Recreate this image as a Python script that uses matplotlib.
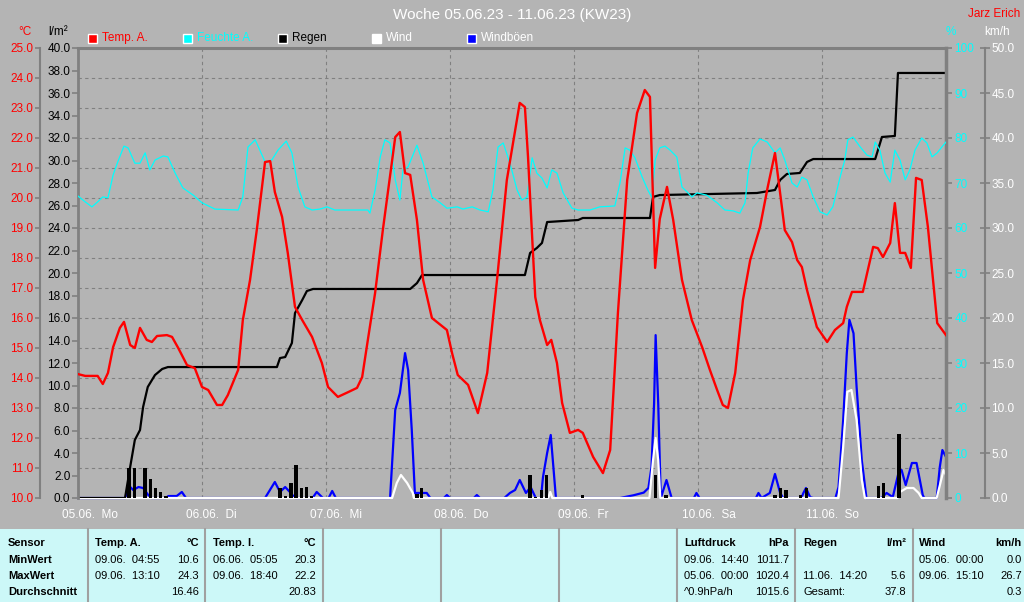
import matplotlib
matplotlib.use('Agg')
import matplotlib.pyplot as plt
from matplotlib.patches import Rectangle
from matplotlib.lines import Line2D
from matplotlib.transforms import ScaledTranslation

plt.rcParams['font.family'] = ['Liberation Sans', 'DejaVu Sans']

# ---- data (hours since 05.06. 00:00) ----
temp_h = [0, 1.4, 3.8, 4.8, 5.8, 6.8, 8.1, 8.9, 10.1, 11.0,
          12.0, 13.3, 14.3, 15.3, 17.2, 18.2, 19.4, 21.1, 22.6, 24.0,
          25.2, 26.9, 27.9, 29.0, 31.0, 31.9, 33.3, 34.6, 36.2, 37.2,
          38.1, 39.5, 40.6, 42.0, 43.4, 45.3, 47.2, 48.4, 50.3, 52.3,
          54.0, 55.0, 56.1, 57.5, 59.0, 61.4, 62.3, 63.3, 64.3, 65.6,
          66.8, 68.5, 71.4, 72.4, 73.5, 75.5, 77.4, 79.2, 81.1, 83.0,
          85.5, 86.5, 87.1, 88.5, 89.4, 90.8, 91.6, 92.7, 93.7, 95.2,
          96.8, 97.7, 99.7, 101.6, 103.0, 104.5, 106.3, 108.2, 109.7, 110.7,
          111.7, 112.6, 114.0, 115.2, 116.9, 118.8, 120.8, 122.3, 123.7, 124.8,
          125.8, 127.2, 128.7, 130.1, 132.0, 133.5, 134.9, 135.5, 136.8, 138.2,
          139.2, 140.1, 141.1, 143.0, 145.0, 146.5, 148.1, 148.8, 149.8, 151.9,
          153.9, 154.8, 155.8, 157.2, 158.1, 159.1, 160.1, 161.2, 162.2, 163.3,
          164.5, 166.3, 168]
temp_v = [14.13, 14.07, 14.07, 13.8, 14.17, 15.03, 15.67, 15.87, 15.1, 15.0,
          15.67, 15.27, 15.2, 15.4, 15.43, 15.37, 15.0, 14.43, 14.33, 13.7,
          13.6, 13.1, 13.1, 13.43, 14.27, 15.93, 17.27, 18.93, 21.2, 21.23,
          20.2, 19.37, 18.17, 16.37, 15.93, 15.37, 14.5, 13.7, 13.37, 13.53,
          13.67, 14.03, 15.27, 16.83, 18.93, 22.03, 22.2, 20.83, 20.77, 19.27,
          17.27, 16.0, 15.6, 14.83, 14.1, 13.77, 12.83, 14.17, 17.27, 20.6,
          23.17, 23.03, 21.37, 16.7, 15.93, 15.1, 15.27, 14.5, 13.17, 12.17,
          12.27, 12.17, 11.37, 10.83, 11.6, 16.17, 20.6, 22.83, 23.6, 23.37,
          17.67, 19.3, 20.37, 19.27, 17.27, 15.93, 15.03, 14.27, 13.6, 13.1,
          13.0, 14.17, 16.6, 17.93, 19.03, 20.37, 21.5, 20.7, 18.93, 18.53,
          17.93, 17.7, 16.93, 15.7, 15.2, 15.6, 15.83, 16.37, 16.87, 16.87,
          18.37, 18.33, 18.03, 18.5, 19.83, 18.17, 18.17, 17.67, 20.67, 20.6,
          19.03, 15.83, 15.43]

hum_h = [0, 1.4, 2.7, 3.8, 4.8, 5.8, 6.8, 7.7, 8.9, 9.7,
         11.0, 12.0, 13.0, 13.9, 14.9, 16.5, 17.4, 18.8, 20.3, 22.3,
         24.0, 26.5, 31.0, 31.9, 32.9, 34.3, 36.2, 37.5, 38.7, 40.3,
         41.4, 42.6, 43.9, 45.3, 46.8, 48.2, 49.7, 56.1, 56.5, 57.5,
         58.5, 59.4, 60.4, 61.4, 62.3, 62.9, 63.9, 65.6, 66.8, 68.5,
         70.1, 71.4, 73.4, 74.5, 76.3, 77.8, 79.4, 80.3, 81.3, 82.3,
         83.6, 85.0, 85.9, 86.9, 87.9, 88.8, 89.8, 90.8, 91.7, 92.7,
         93.9, 95.6, 96.8, 99.1, 101.0, 103.9, 104.9, 105.9, 106.8, 107.8,
         109.2, 110.3, 111.1, 111.7, 112.6, 113.6, 114.6, 115.9, 116.9, 117.9,
         118.8, 119.8, 121.7, 123.7, 125.2, 126.8, 128.1, 129.1, 129.7, 130.6,
         132.0, 133.4, 134.9, 135.9, 136.8, 138.2, 139.2, 140.1, 141.1, 142.3,
         143.6, 145.0, 146.1, 147.5, 148.4, 149.0, 150.0, 151.4, 152.7, 153.7,
         154.3, 155.2, 156.2, 157.2, 158.1, 159.1, 160.1, 161.0, 162.0, 163.3,
         164.3, 165.3, 166.3, 167.2, 168]
hum_v = [67.1, 65.8, 64.7, 65.8, 66.9, 66.7, 71.8, 74.7, 78.2, 77.8,
         74.4, 74.4, 76.7, 72.9, 75.1, 76.0, 75.8, 72.2, 68.9, 67.3,
         65.6, 64.2, 64.0, 66.9, 78.0, 79.6, 74.7, 75.1, 77.3, 79.3,
         76.7, 69.1, 64.7, 64.0, 64.2, 64.7, 64.0, 64.0, 63.3, 68.4,
         75.8, 79.6, 78.9, 70.7, 66.2, 72.9, 73.6, 78.4, 74.4, 66.9,
         65.6, 64.4, 64.7, 64.2, 64.7, 64.0, 63.6, 68.4, 78.0, 78.9,
         74.4, 68.4, 66.2, 66.9, 75.6, 72.2, 71.1, 68.9, 72.9, 72.2,
         67.8, 64.4, 64.0, 64.0, 64.7, 64.9, 70.0, 77.8, 77.3, 75.6,
         71.3, 68.4, 66.7, 75.1, 77.8, 78.2, 77.3, 75.8, 69.1, 68.0,
         66.9, 67.8, 67.3, 65.6, 64.0, 63.8, 63.3, 65.6, 72.2, 77.8,
         79.8, 79.1, 76.7, 77.8, 75.1, 70.0, 69.1, 71.3, 70.7, 66.9,
         63.6, 62.9, 64.7, 71.3, 75.1, 79.6, 80.2, 78.0, 76.2, 75.8,
         79.1, 77.3, 72.2, 70.2, 77.3, 75.1, 70.7, 72.9, 77.3, 80.0,
         78.9, 75.8, 76.7, 78.0, 79.1]

rain_cum_h = [0, 9.1, 10.1, 11.0, 12.0, 12.6, 13.5, 14.9, 16.3, 17.4,
              38.5, 39.1, 40.1, 41.4, 42.0, 43.4, 44.3, 45.5,
              64.3, 65.6, 66.6, 86.5, 87.5, 88.8, 89.8, 90.8, 96.8, 97.7,
              110.7, 111.3, 112.6, 131.4, 132.6, 134.9, 135.9, 137.2, 139.7, 141.1, 142.3,
              154.3, 155.6, 158.1, 158.7, 168]
rain_cum_v = [0, 0, 2.76, 5.16, 6.04, 8.09, 9.87, 10.93, 11.47, 11.64,
              11.64, 12.44, 12.53, 13.78, 16.44, 17.6, 18.4, 18.58,
              18.58, 19.1, 19.82, 19.82, 21.78, 22.22, 22.67, 24.53, 24.71, 24.89,
              24.89, 26.76, 26.93, 27.11, 27.2, 27.38, 28.27, 28.8, 28.89, 29.87, 30.13,
              30.13, 32.09, 32.18, 37.78, 37.78]

rain_h = [9.9, 10.9, 13.0, 14.0, 15.0, 16.0, 17.0,
          39.1, 40.2, 41.2, 42.2, 43.2, 44.2, 45.2,
          65.6, 66.5, 87.5, 88.6, 89.7, 90.7, 97.7,
          111.8, 113.8, 134.9, 136.0, 137.0, 139.9, 141.0,
          154.9, 155.9, 158.9]
rain_v = [2.67, 2.67, 2.67, 1.69, 0.89, 0.53, 0.18,
          0.89, 0.18, 1.33, 2.93, 0.89, 0.98, 0.18,
          0.4, 0.89, 2.04, 0.1, 0.71, 2.04, 0.27,
          2.04, 0.27, 0.27, 0.89, 0.71, 0.27, 0.89,
          1.07, 1.33, 5.69]

wind_h = [0, 60.8, 61.7, 62.5, 63.7, 64.8, 65.0, 91.0, 91.4, 91.8,
          110.6, 111.3, 111.8, 112.3, 112.7, 147.2, 148.1, 148.9, 149.7, 150.7,
          151.7, 152.3, 158.6, 159.1, 160.4, 161.7, 162.7, 163.3, 166.2, 167.2,
          167.5, 168]
wind_v = [0, 0, 1.67, 2.56, 1.67, 0.56, 0, 0, 0.67, 0,
          0, 4.2, 6.67, 4.2, 0, 0, 5.67, 11.8, 12.0, 8.67,
          2.0, 0, 0, 0.67, 1.11, 1.11, 0.56, 0, 0, 2.33,
          3.11, 2.56]

gust_h = [0, 9.2, 9.7, 10.7, 11.7, 12.6, 13.6, 14.2, 17.0, 17.5, 19.1, 20.1, 20.9,
          36.2, 38.1, 39.1, 40.1, 41.0, 42.0, 45.4, 46.2, 47.4, 48.5, 49.2, 49.9,
          60.4, 61.4, 62.3, 63.3, 63.9, 64.6, 65.2, 66.8, 67.5, 68.2, 70.8, 71.4, 72.0, 76.6, 77.2, 77.8,
          82.5, 83.6, 84.6, 85.5, 86.7, 87.6, 88.6, 89.6, 90.0, 90.8, 91.5, 92.5,
          104.9, 107.5, 109.5, 110.4, 111.0, 111.5, 111.8, 112.3, 112.8, 113.9, 114.9,
          119.2, 119.7, 120.3, 131.2, 131.7, 132.3, 133.9, 134.9, 135.9, 136.5, 140.0, 140.4, 140.9, 141.7, 142.3,
          146.6, 147.2, 148.1, 148.8, 149.3, 150.1, 150.7, 151.7, 152.6,
          155.5, 156.5, 157.7, 158.8, 159.4, 160.2, 161.4, 162.3, 163.5, 163.8, 166.2, 166.8, 167.3, 168]
gust_v = [0, 0, 1.44, 0.89, 1.22, 1.11, 0.33, 0, 0, 0.22, 0.22, 0.67, 0,
          0, 1.78, 0.67, 1.22, 0.67, 0, 0, 0.67, 0, 0, 0.78, 0,
          0, 9.78, 11.67, 16.1, 14.2, 7.56, 0.56, 0.56, 0.56, 0, 0, 0.33, 0, 0, 0.33, 0,
          0, 0.56, 0.89, 2.0, 0.56, 1.22, 0, 0, 2.33, 5.0, 7.0, 0,
          0, 0.3, 0.6, 1.11, 3.44, 10.5, 18.1, 10.5, 0, 2.0, 0,
          0, 0.56, 0, 0, 0.56, 0, 0.56, 2.67, 0.56, 0, 0, 0.56, 1.11, 0.1, 0,
          0, 1.22, 8.67, 16.1, 19.8, 18.3, 12.3, 4.2, 0,
          0, 0.56, 0.1, 2.78, 3.11, 1.44, 3.89, 3.89, 0.33, 0, 0, 3.44, 5.33, 4.56]

day_labels = ['05.06.  Mo', '06.06.  Di', '07.06.  Mi', '08.06.  Do',
              '09.06.  Fr', '10.06.  Sa', '11.06.  So']

# summary table: (left x, right x, rows)
table_cols = [
    (8, None, ['Sensor', 'MinWert', 'MaxWert', 'Durchschnitt']),
    (95, 199, [('Temp. A.', '°C'), ('09.06.  04:55', '10.6'), ('09.06.  13:10', '24.3'), ('', '16.46')]),
    (213, 316, [('Temp. I.', '°C'), ('06.06.  05:05', '20.3'), ('09.06.  18:40', '22.2'), ('', '20.83')]),
    (684, 789, [('Luftdruck', 'hPa'), ('09.06.  14:40', '1011.7'), ('05.06.  00:00', '1020.4'), ('^0.9hPa/h', '1015.6')]),
    (803, 906, [('Regen', 'l/m²'), ('', ''), ('11.06.  14:20', '5.6'), ('Gesamt:', '37.8')]),
    (919, 1022, [('Wind', 'km/h'), ('05.06.  00:00', '0.0'), ('09.06.  15:10', '26.7'), ('', '0.3')]),
]
col_lines = [88, 205, 323, 441, 559, 677, 795, 913]

BG = '#b4b4b4'
GRID = '#808080'
RED = '#ff0000'
CYAN = '#00ffff'
BLUE = '#0000ff'

W, H = 1024, 602
def fx(x):
    return x / W
def fy(y):
    return 1 - y / H

fig = plt.figure(figsize=(10.24, 6.02), dpi=100, facecolor=BG)
rect = [fx(78), fy(498), (946 - 78) / W, (498 - 48) / H]

ax_w = fig.add_axes(rect, zorder=1)
ax_r = fig.add_axes(rect, zorder=2)
ax_h = fig.add_axes(rect, zorder=3)
ax_t = fig.add_axes(rect, zorder=4)

ax_w.set_facecolor(BG)
for a in (ax_r, ax_h, ax_t):
    a.set_facecolor('none')
    a.tick_params(axis='x', bottom=False, labelbottom=False)
for a in (ax_w, ax_r, ax_h, ax_t):
    a.set_xlim(0, 168)
    for s in a.spines.values():
        s.set_visible(False)
        s.set_color(GRID)

# wind axis (km/h)
ax_w.set_ylim(0, 50)
ax_w.yaxis.tick_right()
ax_w.spines['right'].set_visible(True)
ax_w.spines['right'].set_position(('axes', 1 + 39 / 868))
ax_w.spines['right'].set_linewidth(1.5)
ax_w.set_yticks(range(0, 51, 5))
ax_w.set_yticklabels([f'{v:.1f}' for v in range(0, 51, 5)])
ax_w.tick_params(axis='y', colors=GRID, labelcolor='white', labelsize=8.5,
                 direction='inout', length=7, width=1.2, pad=1)
ax_w.set_xticks([24 * d for d in range(7)])
ax_w.set_xticklabels(day_labels)
ax_w.tick_params(axis='x', length=0, labelcolor='white', labelsize=8.5, pad=8)
for lab in ax_w.get_xticklabels():
    lab.set_horizontalalignment('left')
    lab.set_transform(lab.get_transform() + ScaledTranslation(-0.16, 0, fig.dpi_scale_trans))

# rain axis (l/m²)
ax_r.set_ylim(0, 40)
ax_r.set_yticks(range(0, 41, 2))
ax_r.set_yticklabels([f'{v:.1f}' for v in range(0, 41, 2)])
ax_r.tick_params(axis='y', colors=GRID, labelcolor='black', labelsize=8.5,
                 length=4.5, width=1.2, pad=1)
for side, lw in (('left', 2), ('top', 2.2), ('right', 2.5)):
    ax_r.spines[side].set_visible(True)
    ax_r.spines[side].set_linewidth(lw)

# humidity axis (%)
ax_h.set_ylim(0, 100)
ax_h.yaxis.tick_right()
ax_h.set_yticks(range(0, 101, 10))
ax_h.tick_params(axis='y', colors=GRID, labelcolor=CYAN, labelsize=8.5,
                 length=4.5, width=1.2, pad=1.5)

# temperature axis (°C)
ax_t.set_ylim(10, 25)
ax_t.spines['left'].set_visible(True)
ax_t.spines['left'].set_position(('axes', -38 / 868))
ax_t.spines['left'].set_linewidth(1.5)
ax_t.set_yticks(range(10, 26))
ax_t.set_yticklabels([f'{v:.1f}' for v in range(10, 26)])
ax_t.tick_params(axis='y', colors=GRID, labelcolor=RED, labelsize=8.5,
                 length=3.5, width=1.2, pad=1.5)

# grid on the bottom layer
for t in range(11, 25):
    ax_w.add_line(Line2D([0, 1], [t, t], transform=ax_t.get_yaxis_transform(),
                         color=GRID, lw=0.8, linestyle=(0, (3, 3)), zorder=0.5))
for d in range(1, 7):
    ax_w.axvline(24 * d, color=GRID, lw=0.8, linestyle=(0, (3, 3)), zorder=0.5)

# series
ax_w.plot(gust_h, gust_v, color=BLUE, lw=1.6, clip_on=False)
ax_w.plot(wind_h, wind_v, color='white', lw=1.6, clip_on=False)
ax_r.bar(rain_h, rain_v, width=0.65, color='black')
ax_r.plot(rain_cum_h, rain_cum_v, color='black', lw=1.6)
ax_h.plot(hum_h, hum_v, color=CYAN, lw=0.9)
ax_t.plot(temp_h, temp_v, color=RED, lw=1.7)

# titles and unit labels
fig.text(fx(512), fy(15), 'Woche 05.06.23 - 11.06.23 (KW23)', color='white',
         fontsize=11, ha='center', va='center')
fig.text(fx(1020), fy(14), 'Jarz Erich', color=RED, fontsize=8.5, ha='right', va='center')
fig.text(fx(25), fy(32), '°C', color=RED, fontsize=8.5, ha='center', va='center')
fig.text(fx(58), fy(32), 'l/m²', color='black', fontsize=8.5, ha='center', va='center')
fig.text(fx(951), fy(32), '%', color=CYAN, fontsize=8.5, ha='center', va='center')
fig.text(fx(997), fy(32), 'km/h', color='white', fontsize=8.5, ha='center', va='center')

# legend
legend = [(88, RED, 'Temp. A.', RED), (183, CYAN, 'Feuchte A.', CYAN),
          (278, 'black', 'Regen', 'black'), (372, 'white', 'Wind', 'white'),
          (467, BLUE, 'Windböen', 'white')]
for x0, fc, txt, tc in legend:
    fig.patches.append(Rectangle((fx(x0), fy(43)), 9 / W, 9 / H, transform=fig.transFigure,
                                 facecolor=fc, edgecolor='white', lw=1))
    fig.text(fx(x0 + 14), fy(38), txt, color=tc, fontsize=8.5, ha='left', va='center')

# summary panel
fig.patches.append(Rectangle((0, 0), 1, (602 - 529) / H, transform=fig.transFigure,
                             facecolor='#ccf8f8', edgecolor='none'))
for x in col_lines:
    fig.add_artist(Line2D([fx(x), fx(x)], [0, fy(529)], color='#a0a0a0', lw=1.5))
row_y = [543, 560, 576, 592]
for xl, xr, rows in table_cols:
    for i, row in enumerate(rows):
        if xr is None:
            fig.text(fx(xl), fy(row_y[i]), row, fontsize=8, fontweight='bold',
                     ha='left', va='center')
            continue
        left, right = row
        bold = 'bold' if i == 0 else 'normal'
        fig.text(fx(xl), fy(row_y[i]), left, fontsize=8, fontweight=bold, ha='left', va='center')
        fig.text(fx(xr), fy(row_y[i]), right, fontsize=8, fontweight=bold, ha='right', va='center')

fig.savefig('out.png', dpi=100, facecolor=BG)
